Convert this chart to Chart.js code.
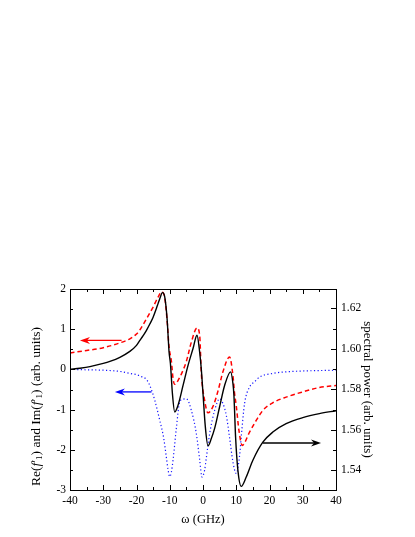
<!DOCTYPE html>
<html>
<head>
<meta charset="utf-8">
<script src="https://cdn.jsdelivr.net/npm/chart.js@4.4.1/dist/chart.umd.min.js"></script>
<style>
  html, body { margin: 0; padding: 0; background: #fff; }
  canvas { display: block; }
</style>
</head>
<body>
<canvas id="myChart" width="415" height="537"></canvas>
<script>
// frequency (GHz) and values
var blackX = [-40, -37, -34, -30, -28, -25, -22, -20, -19, -18, -17, -16, -15, -14, -13.5, -13, -12.2, -11.5, -10.8, -10.2,
    -9.8, -9.2, -8.5, -7.5, -6, -4.5, -3, -1.8, -1, -0.5, 0, 0.7, 1.5, 2.5, 3.5, 5, 6.5, 8.3, 9, 9.3,
    9.8, 10.5, 11.5, 13, 15, 18, 21, 25, 30, 35, 40];
// spectral power (right axis)
var blackY = [1.5898, 1.5904, 1.5912, 1.5928, 1.5938, 1.5958, 1.5987, 1.6017, 1.6041, 1.6065, 1.6091, 1.6122, 1.6156, 1.6200, 1.6224, 1.6247, 1.6277, 1.6255, 1.6148, 1.5983,
    1.5928, 1.5779, 1.5688, 1.5722, 1.5819, 1.5918, 1.6001, 1.6067, 1.5983, 1.5898, 1.5779, 1.5615, 1.5521, 1.5557, 1.5607, 1.5714, 1.5819, 1.5886, 1.5829, 1.5771,
    1.5565, 1.5400, 1.5321, 1.5367, 1.5450, 1.5539, 1.5589, 1.5630, 1.5660, 1.5680, 1.5694];

// Re(f'1), red dashed (left axis)
var redX = [-40, -35, -30, -25, -22, -20, -19, -17, -15, -13.5, -12.4, -11.5, -10.8, -10.2, -9.5, -9, -8.5, -7.2, -6, -5,
    -3.5, -1.8, -1, -0.5, 0.5, 1.5, 3, 4.5, 6, 8, 9, 9.5, 10, 10.8, 11.8, 14, 16, 18, 21, 25, 30, 35, 40];
var redY = [0.41, 0.47, 0.54, 0.66, 0.76, 0.88, 0.98, 1.26, 1.55, 1.80, 1.93, 1.78, 1.22, 0.55, 0.2, -0.23, -0.37, -0.23, -0.02, 0.2,
    0.68, 1.03, 0.85, -0.1, -0.77, -1.08, -0.92, -0.54, -0.06, 0.31, -0.15, -0.6, -0.9, -1.51, -1.89, -1.56, -1.27, -1.02, -0.83, -0.69, -0.56, -0.45, -0.40];

// Im(f'1), blue dotted (left axis)
var blueX = [-40, -35, -30, -25, -22, -20, -18.5, -17, -16, -14.5, -13, -11.8, -11, -10.5, -10, -9.5, -9, -8, -7, -6,
    -5, -3.5, -2, -1, -0.3, 0.5, 1, 2, 3.5, 5, 6, 7, 8, 9, 10, 11, 11.5, 12.5, 14, 15.5, 17, 21, 25, 30, 40];
var blueY = [0, -0.01, -0.02, -0.05, -0.10, -0.13, -0.18, -0.25, -0.40, -0.77, -1.27, -1.72, -2.2, -2.5, -2.67, -2.55, -2.25, -1.45, -0.81, -0.74,
    -0.73, -1.02, -1.60, -2.25, -2.68, -2.5, -2.2, -1.60, -1.02, -0.73, -0.85, -1.14, -1.7, -2.3, -2.59, -2.15, -1.68, -0.85, -0.44, -0.31, -0.19, -0.10, -0.06, -0.04, -0.02];

var xTicks = [-40, -30, -20, -10, 0, 10, 20, 30, 40];
var leftTicks = [-3, -2, -1, 0, 1, 2];
var rightTicks = [1.54, 1.56, 1.58, 1.60, 1.62];

// arrows telling which axis each curve uses
var arrows = [
    { from: -24.5, to: -37, at: 0.72, axis: 'y', color: 'rgb(255,0,0)' },
    { from: -15.5, to: -26.5, at: -0.56, axis: 'y', color: 'rgb(0,0,255)' },
    { from: 18, to: 35.5, at: 1.5535, axis: 'y1', color: '#000' }
];

var serif = 'Liberation Serif, Times New Roman, serif';

function toPoints(xs, ys) {
    var pts = [];
    for (var i = 0; i < xs.length; i++) {
        pts.push({ x: xs[i], y: ys[i] });
    }
    return pts;
}

var frame = {
    id: 'frame',
    afterDraw: function (chart) {
        var ctx = chart.ctx;
        var a = chart.chartArea;
        var sx = chart.scales.x, sy = chart.scales.y, sr = chart.scales.y1;
        ctx.save();
        ctx.strokeStyle = '#000';
        ctx.lineWidth = 1;
        ctx.strokeRect(Math.round(a.left) + 0.5, Math.round(a.top) + 0.5, Math.round(a.right - a.left), Math.round(a.bottom - a.top));

        ctx.beginPath();
        var v, p, len;
        for (v = -40; v <= 40; v += 5) {
            p = Math.round(sx.getPixelForValue(v)) + 0.5;
            len = v % 10 === 0 ? 5 : 3;
            ctx.moveTo(p, a.bottom); ctx.lineTo(p, a.bottom - len);
            ctx.moveTo(p, a.top); ctx.lineTo(p, a.top + len);
        }
        for (v = -3; v <= 2; v += 0.5) {
            p = Math.round(sy.getPixelForValue(v)) + 0.5;
            len = v % 1 === 0 ? 5 : 3;
            ctx.moveTo(a.left, p); ctx.lineTo(a.left + len, p);
        }
        for (var k = 154; k <= 162; k++) {
            p = Math.round(sr.getPixelForValue(k / 100)) + 0.5;
            len = k % 2 === 0 ? 5 : 3;
            ctx.moveTo(a.right, p); ctx.lineTo(a.right - len, p);
        }
        ctx.stroke();

        // arrows
        arrows.forEach(function (ar) {
            var ys = chart.scales[ar.axis];
            var x1 = sx.getPixelForValue(ar.from), x2 = sx.getPixelForValue(ar.to);
            var y = ys.getPixelForValue(ar.at);
            var dir = x2 > x1 ? 1 : -1;
            ctx.strokeStyle = ar.color;
            ctx.fillStyle = ar.color;
            ctx.lineWidth = 1.3;
            ctx.beginPath();
            ctx.moveTo(x1, y); ctx.lineTo(x2 - dir * 6, y);
            ctx.stroke();
            ctx.beginPath();
            ctx.moveTo(x2, y);
            ctx.lineTo(x2 - dir * 10, y - 3.5);
            ctx.lineTo(x2 - dir * 7, y);
            ctx.lineTo(x2 - dir * 10, y + 3.5);
            ctx.closePath();
            ctx.fill();
        });

        // left axis title with italic f, prime and subscript
        var parts = [
            { t: 'Re(', f: '13.5px ' + serif, dy: 0 },
            { t: 'f', f: 'italic 13.5px ' + serif, dy: 0 },
            { t: '\u2032', f: '13.5px ' + serif, dy: 0 },
            { t: '1', f: '9px ' + serif, dy: 3.5 },
            { t: ') and Im(', f: '13.5px ' + serif, dy: 0 },
            { t: 'f', f: 'italic 13.5px ' + serif, dy: 0 },
            { t: '\u2032', f: '13.5px ' + serif, dy: 0 },
            { t: '1', f: '9px ' + serif, dy: 3.5 },
            { t: ') (arb. units)', f: '13.5px ' + serif, dy: 0 }
        ];
        var total = 0;
        parts.forEach(function (pt) { ctx.font = pt.f; pt.w = ctx.measureText(pt.t).width; total += pt.w; });
        ctx.translate(a.left - 34, (a.top + a.bottom) / 2 + 17);
        ctx.rotate(-Math.PI / 2);
        ctx.fillStyle = '#000';
        ctx.textBaseline = 'middle';
        ctx.textAlign = 'left';
        var cx = -total / 2;
        parts.forEach(function (pt) {
            ctx.font = pt.f;
            ctx.fillText(pt.t, cx, pt.dy);
            cx += pt.w;
        });
        ctx.restore();
    }
};

var ctx = document.getElementById('myChart').getContext('2d');

var myChart = new Chart(ctx, {
    type: 'line',
    data: {
        datasets: [{
            label: 'spectral power',
            data: toPoints(blackX, blackY),
            yAxisID: 'y1',
            borderColor: '#000',
            borderWidth: 1.4,
            pointRadius: 0,
            cubicInterpolationMode: 'monotone',
            fill: false
        }, {
            label: 'Re',
            data: toPoints(redX, redY),
            yAxisID: 'y',
            borderColor: 'rgb(255,0,0)',
            borderWidth: 1.5,
            borderDash: [4.5, 3],
            pointRadius: 0,
            cubicInterpolationMode: 'monotone',
            fill: false
        }, {
            label: 'Im',
            data: toPoints(blueX, blueY),
            yAxisID: 'y',
            borderColor: 'rgb(20,20,255)',
            borderWidth: 1.2,
            borderDash: [1.2, 2.4],
            pointRadius: 0,
            cubicInterpolationMode: 'monotone',
            fill: false
        }]
    },
    options: {
        responsive: false,
        animation: false,
        layout: { padding: { top: 289, left: 0, right: 0, bottom: 0 } },
        plugins: { legend: { display: false }, tooltip: { enabled: false } },
        scales: {
            x: {
                type: 'linear',
                position: 'bottom',
                min: -40,
                max: 40,
                afterBuildTicks: function (s) { s.ticks = xTicks.map(function (v) { return { value: v }; }); },
                afterFit: function (s) { s.height = 47; },
                ticks: { color: '#000', font: { family: serif, size: 11.5 }, padding: 4, maxRotation: 0 },
                grid: { display: false, drawTicks: false },
                border: { display: false },
                title: { display: true, text: '\u03c9 (GHz)', color: '#000', font: { family: serif, size: 12.5 }, padding: { top: 0, bottom: 10 } }
            },
            y: {
                position: 'left',
                min: -3,
                max: 2,
                afterBuildTicks: function (s) { s.ticks = leftTicks.map(function (v) { return { value: v }; }); },
                afterFit: function (s) { s.width = 70; },
                ticks: { color: '#000', font: { family: serif, size: 11.5 }, padding: 4 },
                grid: { display: false, drawTicks: false },
                border: { display: false }
            },
            y1: {
                position: 'right',
                min: 1.5303,
                max: 1.6295,
                afterBuildTicks: function (s) { s.ticks = rightTicks.map(function (v) { return { value: v }; }); },
                afterFit: function (s) { s.width = 79; },
                ticks: {
                    color: '#000', font: { family: serif, size: 11.5 }, padding: 5,
                    callback: function (v) { return v.toFixed(2); }
                },
                grid: { display: false, drawTicks: false },
                border: { display: false },
                title: { display: true, text: 'spectral power (arb. units)', color: '#000', font: { family: serif, size: 13 }, padding: { top: 40, bottom: 0 } }
            }
        }
    },
    plugins: [frame]
});
</script>
</body>
</html>
